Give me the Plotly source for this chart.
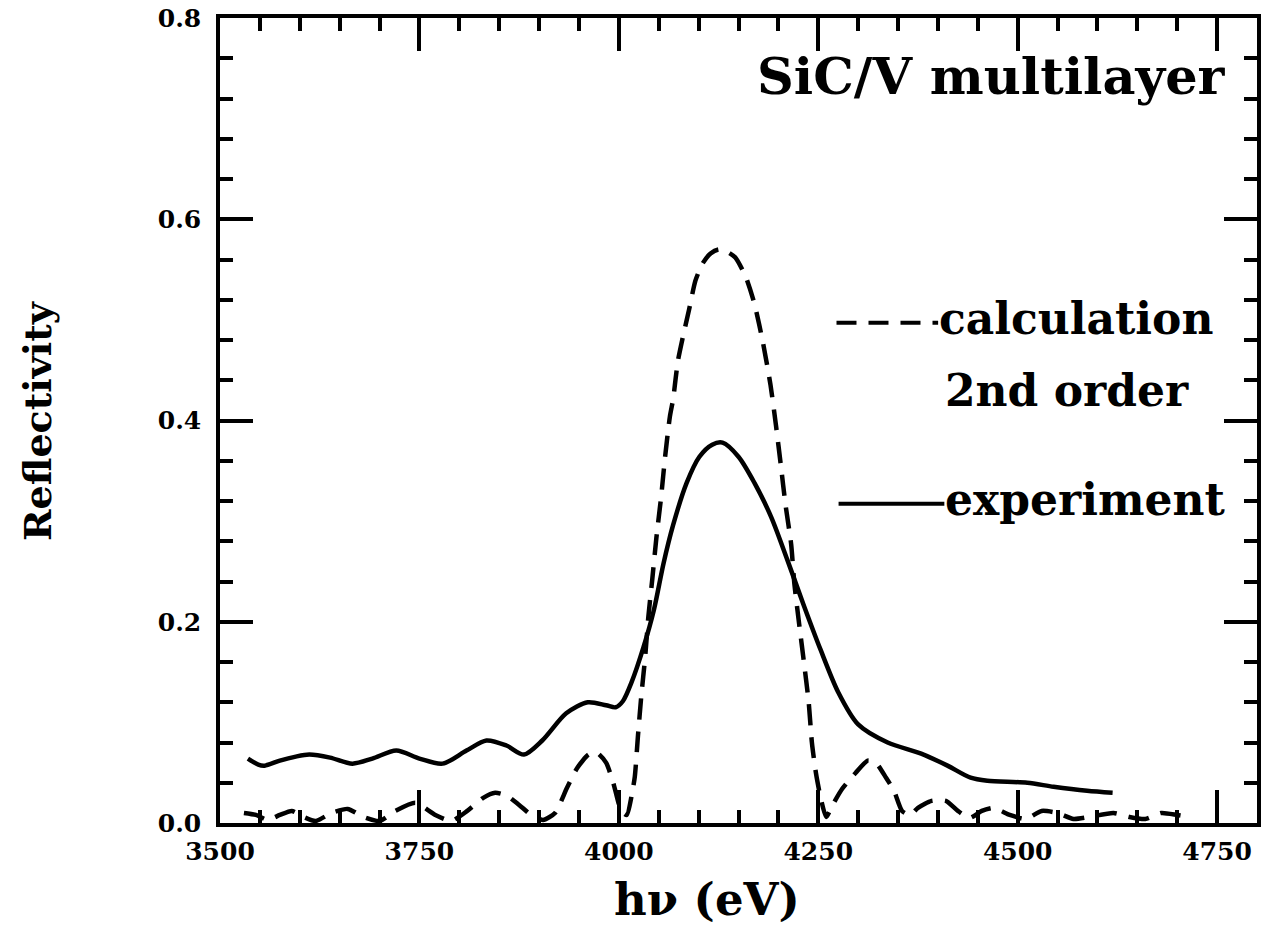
import plotly.graph_objects as go

# ---- data ----
exp_E = [3535, 3548, 3556, 3575, 3595, 3612, 3638, 3666, 3691, 3721, 3750, 3779, 3809, 3834,
         3859, 3881, 3904, 3934, 3961, 3984, 3996, 4005, 4016, 4031, 4044, 4056, 4068, 4085,
         4101, 4117, 4130, 4150, 4170, 4191, 4211, 4232, 4253, 4275, 4300, 4337, 4379, 4412,
         4441, 4462, 4512, 4545, 4587, 4619]
exp_R = [0.064, 0.058, 0.057, 0.062, 0.066, 0.068, 0.065, 0.059, 0.064, 0.072, 0.064, 0.059,
         0.072, 0.082, 0.077, 0.068, 0.082, 0.109, 0.120, 0.117, 0.115, 0.121, 0.140, 0.175,
         0.212, 0.258, 0.296, 0.338, 0.364, 0.376, 0.378, 0.364, 0.338, 0.304, 0.262, 0.216,
         0.172, 0.130, 0.098, 0.080, 0.069, 0.057, 0.045, 0.042, 0.040, 0.036, 0.032, 0.030]

calc_E = [3530, 3545, 3560, 3575, 3590, 3605, 3620, 3640, 3660, 3680, 3700, 3720, 3745, 3770,
          3790, 3810, 3830, 3845, 3860, 3875, 3890, 3905, 3920, 3935, 3948, 3962, 3972, 3984,
          3993, 4003, 4010, 4016, 4020, 4024, 4028, 4033, 4037, 4042, 4047, 4053, 4058, 4064,
          4068, 4074, 4080, 4088, 4096, 4105, 4115, 4125, 4135, 4146, 4159, 4170, 4181, 4190,
          4197, 4203, 4209, 4216, 4220, 4226, 4232, 4238, 4242, 4247, 4253, 4260, 4268, 4280,
          4297, 4312, 4322, 4335, 4345, 4355, 4365, 4375, 4392, 4410, 4425, 4440, 4455, 4470,
          4490, 4510, 4530, 4550, 4570, 4590, 4620, 4640, 4660, 4680, 4700, 4715]
calc_R = [0.010, 0.008, 0.003, 0.008, 0.012, 0.006, 0.002, 0.010, 0.014, 0.006, 0.002, 0.012,
          0.020, 0.008, 0.002, 0.012, 0.025, 0.030, 0.027, 0.018, 0.008, 0.003, 0.010, 0.035,
          0.055, 0.068, 0.070, 0.060, 0.040, 0.012, 0.008, 0.027, 0.046, 0.087, 0.125, 0.165,
          0.205, 0.243, 0.283, 0.324, 0.364, 0.404, 0.421, 0.459, 0.482, 0.510, 0.539, 0.556,
          0.566, 0.570, 0.568, 0.562, 0.543, 0.516, 0.476, 0.436, 0.395, 0.356, 0.316, 0.277,
          0.238, 0.198, 0.160, 0.120, 0.080, 0.050, 0.025, 0.006, 0.018, 0.034, 0.050, 0.062,
          0.060, 0.045, 0.032, 0.012, 0.008, 0.015, 0.022, 0.022, 0.012, 0.005, 0.012, 0.015,
          0.008, 0.004, 0.012, 0.010, 0.004, 0.006, 0.010, 0.006, 0.004, 0.010, 0.008, 0.006]

x_ticks = [3500, 3750, 4000, 4250, 4500, 4750]
y_ticks = [0.0, 0.2, 0.4, 0.6, 0.8]

FONT = "DejaVu Serif"

fig = go.Figure()
fig.add_trace(go.Scatter(x=calc_E, y=calc_R, mode="lines",
                         line=dict(color="black", width=4.5, dash="21px,12px",
                                   shape="spline", smoothing=0.6),
                         showlegend=False))
fig.add_trace(go.Scatter(x=exp_E, y=exp_R, mode="lines",
                         line=dict(color="black", width=4.5, shape="spline", smoothing=0.8),
                         showlegend=False))

axis_common = dict(showline=True, linecolor="black", linewidth=3.5, mirror="ticks",
                   ticks="inside", tickcolor="black", tickwidth=3.5, ticklen=33,
                   showgrid=False, zeroline=False, ticklabeloverflow="allow",
                   tickfont=dict(family=FONT, size=25, color="black", weight="bold"))

fig.update_xaxes(range=[3500, 4800], tickvals=x_ticks, ticktext=[str(v) for v in x_ticks],
                 minor=dict(ticks="inside", ticklen=13, tickwidth=3.5, tickcolor="black",
                            tick0=3500, dtick=50),
                 ticklabelstandoff=3, **axis_common)
fig.update_yaxes(range=[0, 0.8], tickvals=y_ticks, ticktext=[f"{v:.1f}" for v in y_ticks],
                 minor=dict(ticks="inside", ticklen=13, tickwidth=3.5, tickcolor="black",
                            tick0=0, dtick=0.04),
                 ticklabelstandoff=10, **axis_common)

title_font = dict(family=FONT, color="black", weight="bold")
annotations = [
    dict(text="h\u03bd (eV)", x=0.470, y=-0.0955, xref="paper", yref="paper",
         xanchor="center", yanchor="middle", showarrow=False, font=dict(size=45, **title_font)),
    dict(text="Reflectivity", x=-0.176, y=0.5, xref="paper", yref="paper", textangle=-90,
         xanchor="center", yanchor="middle", showarrow=False, font=dict(size=38, **title_font)),
    dict(text="SiC/V multilayer", x=0.516, y=0.928, xref="paper", yref="paper",
         xanchor="left", yanchor="middle", showarrow=False, font=dict(size=51, **title_font)),
    dict(text="calculation", x=0.6915, y=0.627, xref="paper", yref="paper",
         xanchor="left", yanchor="middle", showarrow=False, font=dict(size=44, **title_font)),
    dict(text="2nd order", x=0.6975, y=0.537, xref="paper", yref="paper",
         xanchor="left", yanchor="middle", showarrow=False, font=dict(size=44, **title_font)),
    dict(text="experiment", x=0.6975, y=0.4015, xref="paper", yref="paper",
         xanchor="left", yanchor="middle", showarrow=False, font=dict(size=44, **title_font)),
]

shapes = [
    dict(type="line", xref="paper", yref="paper", x0=0.5945, x1=0.6925, y0=0.6215, y1=0.6215,
         line=dict(color="black", width=4, dash="20px,12px")),
    dict(type="line", xref="paper", yref="paper", x0=0.5965, x1=0.6985, y0=0.3965, y1=0.3965,
         line=dict(color="black", width=4)),
]

fig.update_layout(width=1263, height=931, margin=dict(l=220, r=2, t=18, b=108),
                  plot_bgcolor="white", paper_bgcolor="white",
                  annotations=annotations, shapes=shapes)

fig.write_html("out.html", config={"displayModeBar": False},
               post_script="document.body.style.margin='0';document.body.style.overflow='hidden';")
